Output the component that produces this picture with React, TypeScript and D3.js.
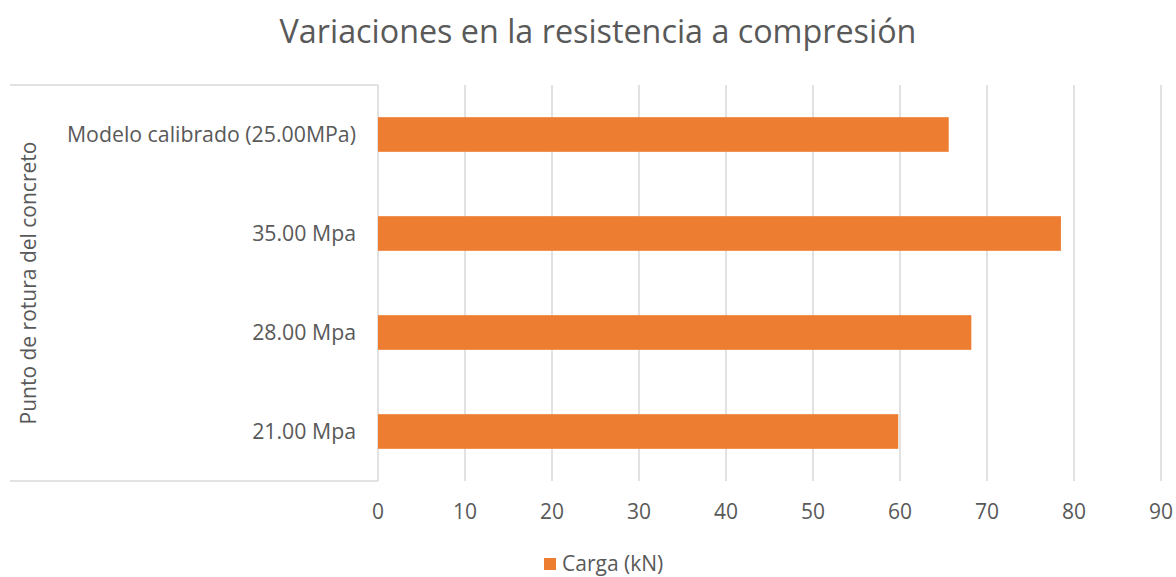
import React from "react";
import * as d3 from "d3";

const categories = ["Modelo calibrado (25.00MPa)", "35.00 Mpa", "28.00 Mpa", "21.00 Mpa"];
const values = [65.6, 78.5, 68.2, 59.8];
const xTicks = [0, 10, 20, 30, 40, 50, 60, 70, 80, 90];
const title = "Variaciones en la resistencia a compresión";
const yTitle = "Punto de rotura del concreto";
const seriesName = "Carga (kN)";

const W = 1176, H = 577;
const FONT = "'Open Sans', sans-serif";
const TXT = "#595959";
const GRID = "#d9d9d9";
const BAR = "#ED7D31";

export default function App() {
  const left = 378, right = 1161, top = 85, bottom = 481;
  const x = d3.scaleLinear().domain([0, 90]).range([left, right]);
  const y = d3.scaleBand<string>().domain(categories).range([top, bottom]).padding(0);
  const bh = y.bandwidth() * 0.35;
  return (
    <svg width={W} height={H} style={{ position: "absolute", left: 0, top: 0, display: "block" }}>
      <rect width={W} height={H} fill="#fff" />
      <text x={598} y={43} textAnchor="middle" fontFamily={FONT} fontSize={32.3} fill={TXT}>{title}</text>
      {xTicks.map((t) => (
        <line key={t} x1={x(t)} x2={x(t)} y1={top} y2={bottom} stroke={GRID} strokeWidth={1.5} />
      ))}
      <line x1={10} x2={left} y1={top} y2={top} stroke={GRID} strokeWidth={1.5} />
      <line x1={10} x2={left} y1={bottom} y2={bottom} stroke={GRID} strokeWidth={1.5} />
      {categories.map((c, i) => (
        <g key={c}>
          <rect x={x(0)} y={(y(c) as number) + (y.bandwidth() - bh) / 2} width={x(values[i]) - x(0)} height={bh} fill={BAR} />
          <text x={356} y={(y(c) as number) + y.bandwidth() / 2} dy="0.35em" textAnchor="end" fontFamily={FONT} fontSize={21.3} fill={TXT}>{c}</text>
        </g>
      ))}
      {xTicks.map((t) => (
        <text key={t} x={x(t)} y={512} dy="0.35em" textAnchor="middle" fontFamily={FONT} fontSize={21} fill={TXT}>{t}</text>
      ))}
      <text transform={`translate(29,${(top + bottom) / 2}) rotate(-90)`} dy="0.35em" textAnchor="middle" fontFamily={FONT} fontSize={21} fill={TXT}>{yTitle}</text>
      <rect x={544} y={558} width={12} height={12} fill={BAR} />
      <text x={562} y={564} dy="0.35em" fontFamily={FONT} fontSize={21} fill={TXT}>{seriesName}</text>
    </svg>
  );
}
